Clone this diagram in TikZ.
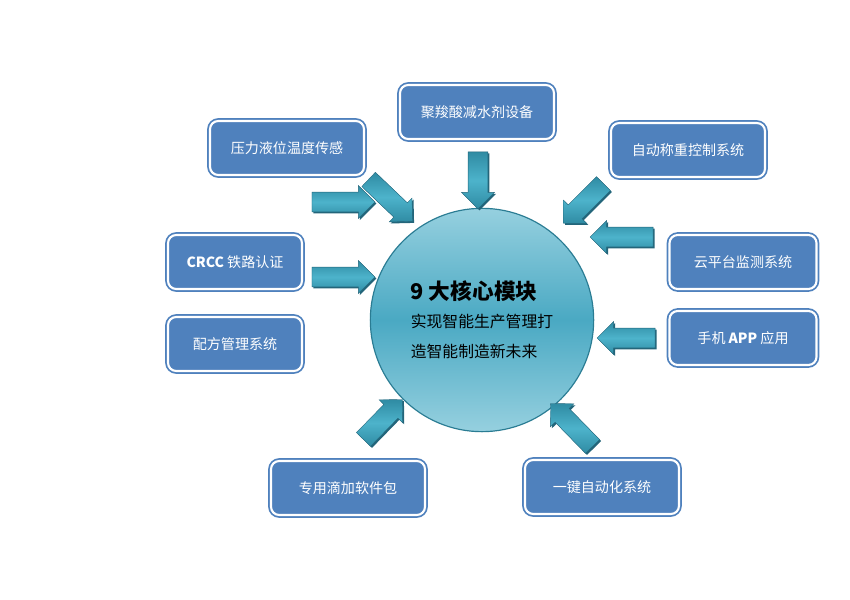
\documentclass[tikz,border=0pt]{standalone}
\usepackage{fontspec}
\setmainfont{Noto Sans CJK SC}
\usetikzlibrary{shapes.arrows,calc,shadows}

\definecolor{boxblue}{HTML}{4F81BD}
\definecolor{tealdark}{HTML}{23657A}
\definecolor{tealmid}{HTML}{2F8BA3}
\definecolor{teallight}{HTML}{4DB3CB}
\definecolor{corelight}{HTML}{96D0DF}
\definecolor{coremid}{HTML}{4AA9C3}
\definecolor{coreedge}{HTML}{2A7C93}

\begin{document}
\begin{tikzpicture}[x=0.03cm,y=-0.03cm,
  module/.style={rounded corners=7pt,fill=boxblue,draw=boxblue,double=white,
    double distance=1.8pt,line width=1.5pt,text=white,
    font=\fontsize{12}{14}\selectfont,minimum width=#1,minimum height=1.62cm},
  module/.default=4.62cm,
  core/.style={circle,minimum size=6.7cm,draw=coreedge,line width=1pt,
    top color=corelight,bottom color=corelight,middle color=coremid,
    align=left,inner sep=0pt},
  feed/.style={single arrow,inner xsep=0pt,inner ysep=0.29cm,
    single arrow head extend=0.2cm,draw=tealdark,line width=0.3pt,
    top color=tealmid,bottom color=tealmid,middle color=teallight,
    general shadow={fill=tealdark,shadow xshift=1.3pt,shadow yshift=-1.3pt}}]
  \useasboundingbox (0,0) rectangle (850,600);

  % centre
  \node[core] (core) at (482,320)
    {{\fontsize{18.5}{22}\selectfont\bfseries 9 大核心模块}\\[10pt]
     {\fontsize{13.5}{16}\selectfont 实现智能生产管理打}\\[12pt]
     {\fontsize{13.5}{16}\selectfont 造智能制造新未来}};

  % modules
  \node[module] (pce)    at (477,112) {聚羧酸减水剂设备};
  \node[module] (press)  at (287,148) {压力液位温度传感};
  \node[module] (weigh)  at (688,150) {自动称重控制系统};
  \node[module=4.41cm] (cloud) at (743,262) {云平台监测系统};
  \node[module=4.02cm] (crcc)  at (235,262) {\textbf{CRCC} 铁路认证};
  \node[module=4.02cm] (recipe) at (235,344) {配方管理系统};
  \node[module=4.41cm] (app)   at (743,338) {手机 \textbf{APP} 应用};
  \node[module] (drip)   at (348,488) {专用滴加软件包};
  \node[module] (auto)   at (602,487) {一键自动化系统};

  % block arrows: tail (-a) to tip (-b)
  \coordinate (top-a) at (478,147);    \coordinate (top-b) at (478,204);
  \coordinate (pressh-a) at (307,202); \coordinate (pressh-b) at (370,202);
  \coordinate (pressd-a) at (365,176); \coordinate (pressd-b) at (409,218);
  \coordinate (weigh-a) at (607,180);  \coordinate (weigh-b) at (567,220);
  \coordinate (cloud-a) at (658,237);  \coordinate (cloud-b) at (595,237);
  \coordinate (crcc-a) at (307,277);   \coordinate (crcc-b) at (370,277);
  \coordinate (app-a) at (660,338);    \coordinate (app-b) at (602,338);
  \coordinate (drip-a) at (360,443);   \coordinate (drip-b) at (399,403);
  \coordinate (auto-a) at (596,450);   \coordinate (auto-b) at (554,407);
  \foreach \k in {top,pressh,pressd,weigh,cloud,crcc,app,drip,auto}
    \path let \p1=($(\k-b)-(\k-a)$) in (\k-a) -- (\k-b)
      node[feed,midway,sloped,allow upside down,
        minimum height={veclen(\x1,\y1)}] (feed-\k) {};
\end{tikzpicture}
\end{document}
